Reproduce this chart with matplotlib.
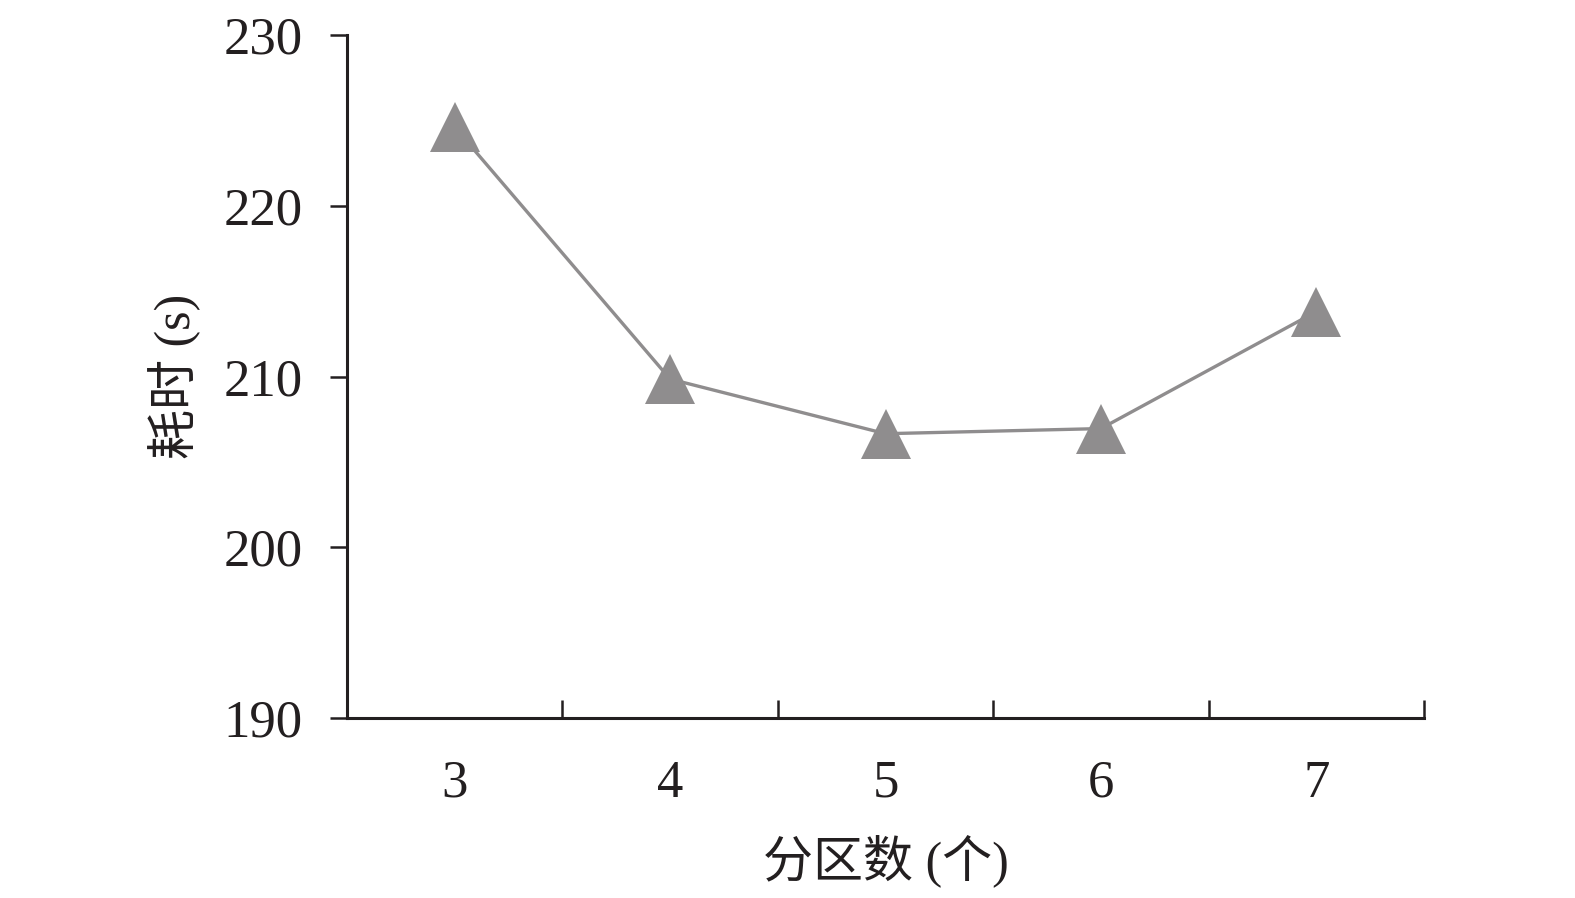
import matplotlib
matplotlib.use("Agg")
import matplotlib.pyplot as plt
from matplotlib.ticker import FixedLocator

plt.rcParams['font.family'] = ['Liberation Serif', 'Noto Sans CJK SC']
plt.rcParams['axes.unicode_minus'] = False

# 数据
partitions = ['3', '4', '5', '6', '7']
time_cost = [224.6, 209.85, 206.65, 206.95, 213.8]
y_ticks = [190, 200, 210, 220, 230]

text_color = '#231f20'
gray = '#8f8d8e'

fig = plt.figure(figsize=(15.75, 8.98), dpi=100)
ax = fig.add_axes([347 / 1575, 1 - 718 / 898, (1424 - 347) / 1575, (718 - 35) / 898])

x = list(range(len(partitions)))
ax.plot(x, time_cost, color=gray, linewidth=2.4, marker='^', markersize=36,
        markerfacecolor=gray, markeredgewidth=0, zorder=3, clip_on=False)

ax.set_xlim(-0.5, len(partitions) - 0.5)
ax.set_ylim(190, 230)
ax.set_yticks(y_ticks)
ax.set_yticklabels([str(v) for v in y_ticks])

# 分类轴: 刻度在类别之间, 标签在类别中心
ax.xaxis.set_major_locator(FixedLocator([i - 0.5 for i in range(len(partitions) + 1)]))
ax.xaxis.set_minor_locator(FixedLocator(x))
ax.set_xticklabels([''] * (len(partitions) + 1))
ax.set_xticklabels(partitions, minor=True)
ax.tick_params(axis='x', which='major', direction='in', length=13, width=1.8, color=text_color)
ax.tick_params(axis='x', which='minor', length=0, pad=30, labelsize=38, labelcolor=text_color)
ax.tick_params(axis='y', direction='out', length=12, width=1.8, color=text_color,
               pad=20, labelsize=38, labelcolor=text_color)

for side in ['top', 'right']:
    ax.spines[side].set_visible(False)
for side in ['left', 'bottom']:
    ax.spines[side].set_linewidth(2.2)
    ax.spines[side].set_color(text_color)

ax.set_xlabel('分区数 (个)', fontsize=36, color=text_color, labelpad=19)
ax.set_ylabel('耗时 (s)', fontsize=36, color=text_color, labelpad=16)

fig.savefig('out.png', dpi=100)
